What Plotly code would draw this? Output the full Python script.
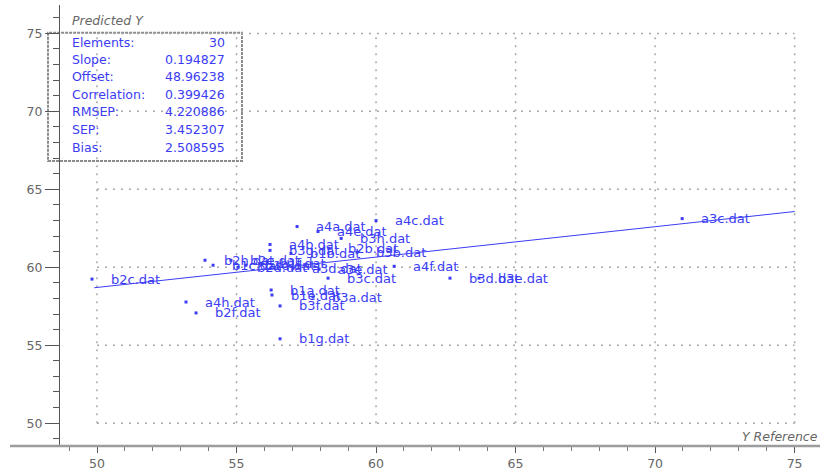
import plotly.graph_objects as go

# --- data -------------------------------------------------------------
sample_names = [
    "b2c.dat", "a4h.dat", "b2f.dat", "b2h.dat", "b1c.dat", "b2e.dat",
    "b2d.dat", "b1d.dat", "b1f.dat", "a4b.dat", "b3g.dat", "b1a.dat",
    "b1e.dat", "b3f.dat", "b1g.dat", "b1b.dat", "a3d.dat", "a4a.dat",
    "b3a.dat", "a4e.dat", "a3e.dat", "b3c.dat", "b2b.dat", "b3h.dat",
    "b3b.dat", "a4c.dat", "a4f.dat", "b3d.dat", "b3e.dat", "a3c.dat",
]
y_reference = [
    49.82, 53.19, 53.55, 53.87, 54.16, 54.80,
    55.05, 55.34, 55.88, 56.20, 56.20, 56.24,
    56.27, 56.56, 56.56, 56.95, 57.03, 57.17,
    57.74, 57.92, 57.96, 58.28, 58.32, 58.75,
    59.32, 60.00, 60.65, 62.65, 63.69, 70.97,
]
y_predicted = [
    59.24, 57.77, 57.07, 60.45, 60.13, 60.45,
    60.00, 60.13, 60.25, 61.46, 61.08, 58.54,
    58.22, 57.52, 55.41, 60.89, 59.94, 62.61,
    58.09, 62.29, 59.87, 59.30, 61.21, 61.85,
    60.96, 62.99, 60.06, 59.30, 59.30, 63.12,
]

slope = 0.194827
offset = 48.96238
stat_labels = ["Elements:", "Slope:", "Offset:", "Correlation:", "RMSEP:", "SEP:", "Bias:"]
stat_values = [str(len(sample_names)), "0.194827", "48.96238", "0.399426",
               "4.220886", "3.452307", "2.508595"]

grid_values = [50, 55, 60, 65, 70, 75]
fit_x = [49.9, 75]

# --- layout geometry (pixels) -------------------------------------------
W, H = 824, 475
ML, MR, MT, MB = 60, 4, 5, 26
PW, PH = W - ML - MR, H - MT - MB


def paper_x(px):
    return (px - ML) / PW


def paper_y(py):
    return (H - MB - py) / PH


BLUE = "#3c3cf5"
GRAY_TXT = "#666666"
FONT = "DejaVu Sans"

fig = go.Figure()

# regression line
fig.add_trace(go.Scatter(
    x=fit_x, y=[slope * v + offset for v in fit_x],
    mode="lines", line=dict(color=BLUE, width=1),
    hoverinfo="skip", showlegend=False,
))

# samples
fig.add_trace(go.Scatter(
    x=y_reference, y=y_predicted, mode="markers",
    marker=dict(symbol="square", size=3, color=BLUE),
    text=sample_names, showlegend=False,
))

shapes = []
# dotted grid restricted to the 50..75 square
for v in grid_values:
    shapes.append(dict(type="line", xref="x", yref="y", x0=50, x1=75, y0=v, y1=v,
                       line=dict(color="#a8a8a8", width=1.5, dash="2px,6px"),
                       layer="below"))
    shapes.append(dict(type="line", xref="x", yref="y", x0=v, x1=v, y0=50, y1=75,
                       line=dict(color="#a8a8a8", width=1.5, dash="2px,6px"),
                       layer="below"))

# statistics box
shapes.append(dict(type="rect", xref="paper", yref="paper",
                   x0=paper_x(48), x1=paper_x(242), y0=paper_y(162), y1=paper_y(33),
                   fillcolor="white", line=dict(color="#8c8c8c", width=2, dash="3px,1px"),
                   layer="below"))

# bottom axis rule
shapes.append(dict(type="line", xref="paper", yref="paper",
                   x0=paper_x(10), x1=paper_x(820), y0=0, y1=0,
                   line=dict(color="#9c9c9c", width=2.5)))

annotations = []
for n, xr, yp in zip(sample_names, y_reference, y_predicted):
    annotations.append(dict(x=xr, y=yp, xref="x", yref="y", text=n, showarrow=False,
                            xanchor="left", yanchor="middle", xshift=17,
                            font=dict(family=FONT, size=13, color=BLUE)))

row_y = [43, 60, 77, 95, 112, 130, 148]
for lab, val, ry in zip(stat_labels, stat_values, row_y):
    annotations.append(dict(x=paper_x(70), y=paper_y(ry), xref="paper", yref="paper",
                            text=lab, showarrow=False, xanchor="left", yanchor="middle",
                            font=dict(family=FONT, size=12.5, color=BLUE)))
    annotations.append(dict(x=paper_x(227), y=paper_y(ry), xref="paper", yref="paper",
                            text=val, showarrow=False, xanchor="right", yanchor="middle",
                            font=dict(family=FONT, size=12.5, color=BLUE)))

annotations.append(dict(x=paper_x(70), y=paper_y(21), xref="paper", yref="paper",
                        text="<i>Predicted Y</i>", showarrow=False,
                        xanchor="left", yanchor="middle",
                        font=dict(family=FONT, size=12.5, color=GRAY_TXT)))
annotations.append(dict(x=paper_x(820), y=paper_y(439), xref="paper", yref="paper",
                        text="<i>Y Reference</i>", showarrow=False,
                        xanchor="right", yanchor="middle",
                        font=dict(family=FONT, size=12.5, color=GRAY_TXT)))

fig.update_layout(
    width=W, height=H,
    margin=dict(l=ML, r=MR, t=MT, b=MB, pad=0),
    paper_bgcolor="white", plot_bgcolor="white",
    shapes=shapes, annotations=annotations,
    showlegend=False,
    xaxis=dict(range=[48.674, 75.91], tickvals=grid_values, showgrid=False,
               zeroline=False, showline=False,
               ticks="outside", ticklen=6, tickcolor="#555555", tickwidth=1,
               minor=dict(dtick=1, tick0=0, ticks="outside", ticklen=4,
                          tickcolor="#777777", showgrid=False),
               tickfont=dict(family=FONT, size=12.5, color=GRAY_TXT)),
    yaxis=dict(range=[48.535, 76.82], tickvals=grid_values, showgrid=False,
               zeroline=False, showline=True, linecolor="#555555", linewidth=1,
               ticks="outside", ticklen=14, tickcolor="#555555", tickwidth=1,
               minor=dict(dtick=1, tick0=0, ticks="outside", ticklen=6,
                          tickcolor="#555555", showgrid=False),
               tickfont=dict(family=FONT, size=12.5, color=GRAY_TXT)),
)

fig.write_html("out.html")
